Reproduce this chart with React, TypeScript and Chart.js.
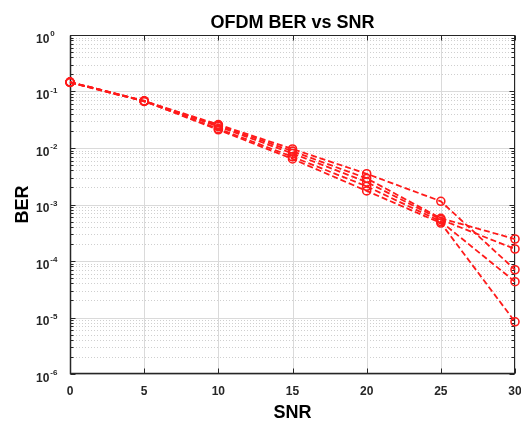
import React, { useEffect, useRef } from "react";
import { Chart, registerables } from "chart.js";

Chart.register(...registerables);

const snr = [0, 5, 10, 15, 20, 25, 30];
const ber1 = [0.147, 0.068, 0.026, 0.0096, 0.0035, 0.00114, 7.0e-5];
const ber2 = [0.145, 0.067, 0.025, 0.0088, 0.0029, 0.00057, 2.45e-4];
const ber3 = [0.147, 0.068, 0.024, 0.008, 0.0025, 0.00054, 1.63e-4];
const ber4 = [0.145, 0.067, 0.022, 0.007, 0.0021, 0.0005, 4.3e-5];
const ber5 = [0.147, 0.068, 0.021, 0.0064, 0.00174, 0.00047, 8.4e-6];
const xTicks = [0, 5, 10, 15, 20, 25, 30];
const yExponents = [-6, -5, -4, -3, -2, -1, 0];
const titleText = "OFDM BER vs SNR";
const xLabel = "SNR";
const yLabel = "BER";

const FONT = '"Liberation Sans", Arial, sans-serif';
const AXIS = "#262626";

const overlay = {
  id: "overlay",
  beforeDatasetsDraw(chart: any) {
    const { ctx, chartArea: a, scales } = chart;
    const x = scales.x;
    const y = scales.y;
    ctx.save();
    ctx.lineWidth = 1;
    ctx.strokeStyle = "#cfcfcf";
    ctx.setLineDash([1, 2]);
    for (let i = 0; i < yExponents.length - 1; i++) {
      const base = Math.pow(10, yExponents[i]);
      for (let m = 2; m <= 9; m++) {
        const py = Math.round(y.getPixelForValue(m * base)) + 0.5;
        ctx.beginPath();
        ctx.moveTo(a.left, py);
        ctx.lineTo(a.right, py);
        ctx.stroke();
      }
    }
    ctx.setLineDash([]);
    ctx.strokeStyle = "#dadada";
    for (const e of yExponents) {
      const py = Math.round(y.getPixelForValue(Math.pow(10, e))) + 0.5;
      ctx.beginPath();
      ctx.moveTo(a.left, py);
      ctx.lineTo(a.right, py);
      ctx.stroke();
    }
    for (const t of xTicks) {
      const px = Math.round(x.getPixelForValue(t)) + 0.5;
      ctx.beginPath();
      ctx.moveTo(px, a.top);
      ctx.lineTo(px, a.bottom);
      ctx.stroke();
    }
    ctx.strokeStyle = AXIS;
    ctx.lineWidth = 1;
    const L = Math.round(a.left) + 0.5;
    const R = Math.round(a.right) - 0.5;
    const T = Math.round(a.top) + 0.5;
    const B = Math.round(a.bottom) - 0.5;
    ctx.strokeRect(L, T, R - L, B - T);
    ctx.lineWidth = 1.5;
    ctx.beginPath();
    ctx.moveTo(L, T);
    ctx.lineTo(L, B);
    ctx.lineTo(R, B);
    ctx.stroke();
    ctx.lineWidth = 1;
    ctx.beginPath();
    for (const t of xTicks) {
      const px = Math.round(x.getPixelForValue(t)) + 0.5;
      ctx.moveTo(px, B);
      ctx.lineTo(px, B - 5);
      ctx.moveTo(px, T);
      ctx.lineTo(px, T + 5);
    }
    for (const e of yExponents) {
      const py = Math.round(y.getPixelForValue(Math.pow(10, e))) + 0.5;
      ctx.moveTo(L, py);
      ctx.lineTo(L + 5, py);
      ctx.moveTo(R, py);
      ctx.lineTo(R - 5, py);
    }
    for (let i = 0; i < yExponents.length - 1; i++) {
      const base = Math.pow(10, yExponents[i]);
      for (let m = 2; m <= 9; m++) {
        const py = Math.round(y.getPixelForValue(m * base)) + 0.5;
        ctx.moveTo(L, py);
        ctx.lineTo(L + 3, py);
        ctx.moveTo(R, py);
        ctx.lineTo(R - 3, py);
      }
    }
    ctx.stroke();
    ctx.restore();
  },
  afterDraw(chart: any) {
    const { ctx, chartArea: a, scales } = chart;
    const x = scales.x;
    const y = scales.y;
    ctx.save();
    ctx.fillStyle = "#000";
    ctx.font = `bold 18px ${FONT}`;
    ctx.textAlign = "center";
    ctx.textBaseline = "alphabetic";
    ctx.fillText(titleText, (a.left + a.right) / 2, 28);
    ctx.fillStyle = AXIS;
    ctx.font = `bold 12px ${FONT}`;
    for (const t of xTicks) {
      ctx.fillText(String(t), x.getPixelForValue(t), a.bottom + 21);
    }
    ctx.textAlign = "left";
    for (const e of yExponents) {
      const py = y.getPixelForValue(Math.pow(10, e));
      ctx.font = `bold 12px ${FONT}`;
      ctx.fillText("10", 36, py + 7.5);
      const w = ctx.measureText("10").width;
      ctx.font = `bold 8px ${FONT}`;
      ctx.fillText(e === 0 ? "0" : "-" + Math.abs(e), 36 + w + 1, py + 1);
    }
    ctx.fillStyle = "#000";
    ctx.font = `bold 18px ${FONT}`;
    ctx.textAlign = "center";
    ctx.fillText(xLabel, (a.left + a.right) / 2, 418);
    ctx.save();
    ctx.translate(28, (a.top + a.bottom) / 2);
    ctx.rotate(-Math.PI / 2);
    ctx.fillText(yLabel, 0, 0);
    ctx.restore();
    ctx.restore();
  },
};

export default function App() {
  const ref = useRef<HTMLCanvasElement | null>(null);
  useEffect(() => {
    if (!ref.current) return;
    const series = [ber1, ber2, ber3, ber4, ber5];
    const chart = new Chart(ref.current, {
      type: "line",
      data: {
        datasets: series.map((s) => ({
          data: snr.map((v, i) => ({ x: v, y: s[i] })),
          borderColor: "#ff1a1a",
          backgroundColor: "rgba(0,0,0,0)",
          borderWidth: 1.8,
          borderDash: [6, 3],
          pointRadius: 4,
          pointBorderWidth: 1.6,
          pointBorderColor: "#ff1a1a",
          pointBackgroundColor: "rgba(0,0,0,0)",
          pointStyle: "circle",
          tension: 0,
          fill: false,
          clip: false as any,
        })),
      },
      options: {
        responsive: false,
        animation: false,
        devicePixelRatio: 1,
        layout: { padding: { top: 35, right: 6, left: 0, bottom: 0 } },
        scales: {
          x: {
            type: "linear",
            min: 0,
            max: 30,
            grid: { display: false },
            border: { display: false },
            ticks: { display: false },
            afterFit: (s: any) => {
              s.height = 47;
            },
          },
          y: {
            type: "logarithmic",
            min: 1e-6,
            max: 1,
            grid: { display: false },
            border: { display: false },
            ticks: { display: false },
            afterFit: (s: any) => {
              s.width = 70;
            },
          },
        },
        plugins: {
          legend: { display: false },
          title: { display: false },
          tooltip: { enabled: false },
        },
      },
      plugins: [overlay],
    });
    return () => chart.destroy();
  }, []);
  return (
    <div style={{ position: "fixed", left: 0, top: 0, width: 521, height: 421, background: "#fff" }}>
      <canvas ref={ref} width={521} height={421} />
    </div>
  );
}
